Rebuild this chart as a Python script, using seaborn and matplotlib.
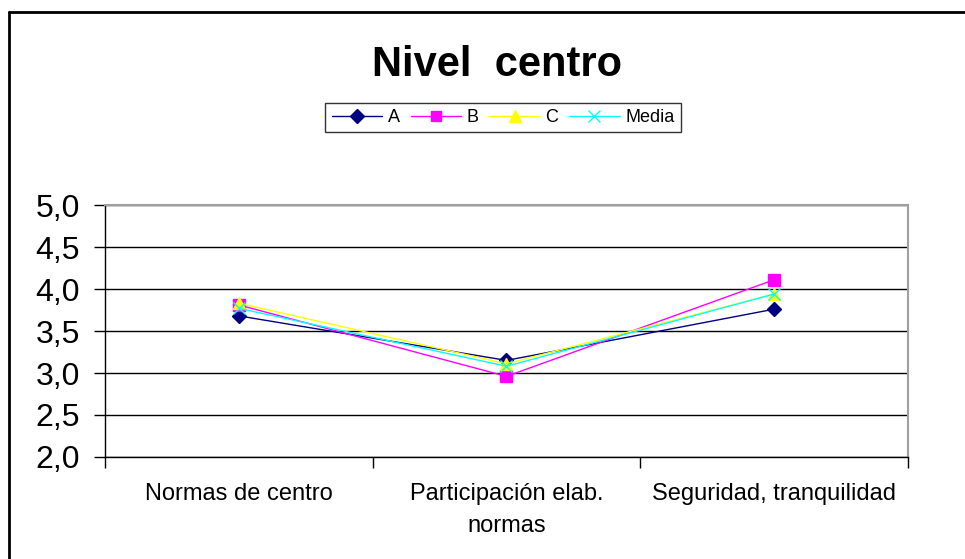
import matplotlib
matplotlib.use("Agg")
import matplotlib.pyplot as plt
from matplotlib.lines import Line2D
import seaborn as sns
import pandas as pd

# Data
categories = ["Normas de centro", "Participación elab.\nnormas", "Seguridad, tranquilidad"]
serie_a = [3.68, 3.15, 3.76]
serie_b = [3.81, 2.96, 4.11]
serie_c = [3.83, 3.11, 3.94]
media = [3.77, 3.08, 3.94]
series_names = ["A", "B", "C", "Media"]
y_ticks = [2.0, 2.5, 3.0, 3.5, 4.0, 4.5, 5.0]

rows = []
for name, vals in zip(series_names, [serie_a, serie_b, serie_c, media]):
    for i, v in enumerate(vals):
        rows.append({"pos": i, "valor": v, "serie": name})
df = pd.DataFrame(rows)

sns.set_theme(style="white", rc={"text.color": "black", "xtick.color": "black",
                                 "ytick.color": "black", "axes.labelcolor": "black"})
plt.rcParams["font.family"] = ["Liberation Sans", "DejaVu Sans"]

colors = {"A": "#000080", "B": "#FF00FF", "C": "#FFFF00", "Media": "#00FFFF"}
markers = {"A": "D", "B": "s", "C": "^", "Media": "x"}
msizes = {"A": 7.5, "B": 8, "C": 8.5, "Media": 9}

fig = plt.figure(figsize=(9.65, 5.59), dpi=100)
fig.patch.set_facecolor("white")
ax = fig.add_axes([105 / 965, 1 - 457 / 559, (908 - 105) / 965, (457 - 205) / 559])

for name in series_names:
    sub = df[df["serie"] == name]
    sns.lineplot(data=sub, x="pos", y="valor", color=colors[name], marker=markers[name],
                 markersize=msizes[name], markerfacecolor=colors[name],
                 markeredgecolor=colors[name], markeredgewidth=1, linewidth=1,
                 ax=ax, sort=False, label=name, legend=False)

ax.set_ylim(2.0, 5.0)
ax.set_xlim(-0.5, 2.5)
ax.set_yticks(y_ticks)
ax.set_yticklabels([f"{t:.1f}".replace(".", ",") for t in y_ticks], fontsize=23)
ax.yaxis.grid(True, color="black", linewidth=1)
ax.set_axisbelow(True)

ax.set_xticks([-0.5, 0.5, 1.5, 2.5])
ax.set_xticklabels([])
ax.set_xticks([0, 1, 2], minor=True)
ax.set_xticklabels(categories, minor=True, fontsize=17, linespacing=1.55)
ax.tick_params(axis="x", which="major", direction="out", length=8, width=1, color="black", bottom=True)
ax.tick_params(axis="x", which="minor", length=0, pad=19)
ax.tick_params(axis="y", direction="out", length=8, width=1, color="black", left=True, pad=10)
ax.set_xlabel("")
ax.set_ylabel("")

for side in ["left", "bottom"]:
    ax.spines[side].set_color("black")
    ax.spines[side].set_linewidth(1)
for side in ["right", "top"]:
    ax.spines[side].set_color("#A0A0A0")
    ax.spines[side].set_linewidth(1.5)

fig.text(497 / 965, 1 - 65 / 559, "Nivel  centro", ha="center", va="center",
         fontsize=30, fontweight="bold")

handles = [Line2D([0], [0], color=colors[n], marker=markers[n], linewidth=1,
                  markersize=msizes[n] - 0.5, markerfacecolor=colors[n],
                  markeredgecolor=colors[n]) for n in series_names]
leg = fig.legend(handles, series_names, loc="center", bbox_to_anchor=(503 / 965, 1 - 117.5 / 559),
                 ncol=4, fontsize=13, frameon=True, fancybox=False, edgecolor="black",
                 handlelength=2.8, handletextpad=0.3, columnspacing=0.6, borderpad=0.35)
leg.get_frame().set_linewidth(1)

# outer chart border (top and left edges)
fig.add_artist(Line2D([9 / 965, 1.0], [1 - 12 / 559, 1 - 12 / 559], color="black", linewidth=2,
                      transform=fig.transFigure))
fig.add_artist(Line2D([9 / 965, 9 / 965], [0.0, 1 - 12 / 559], color="black", linewidth=2,
                      transform=fig.transFigure))

fig.savefig("out.png", dpi=100, facecolor="white")
